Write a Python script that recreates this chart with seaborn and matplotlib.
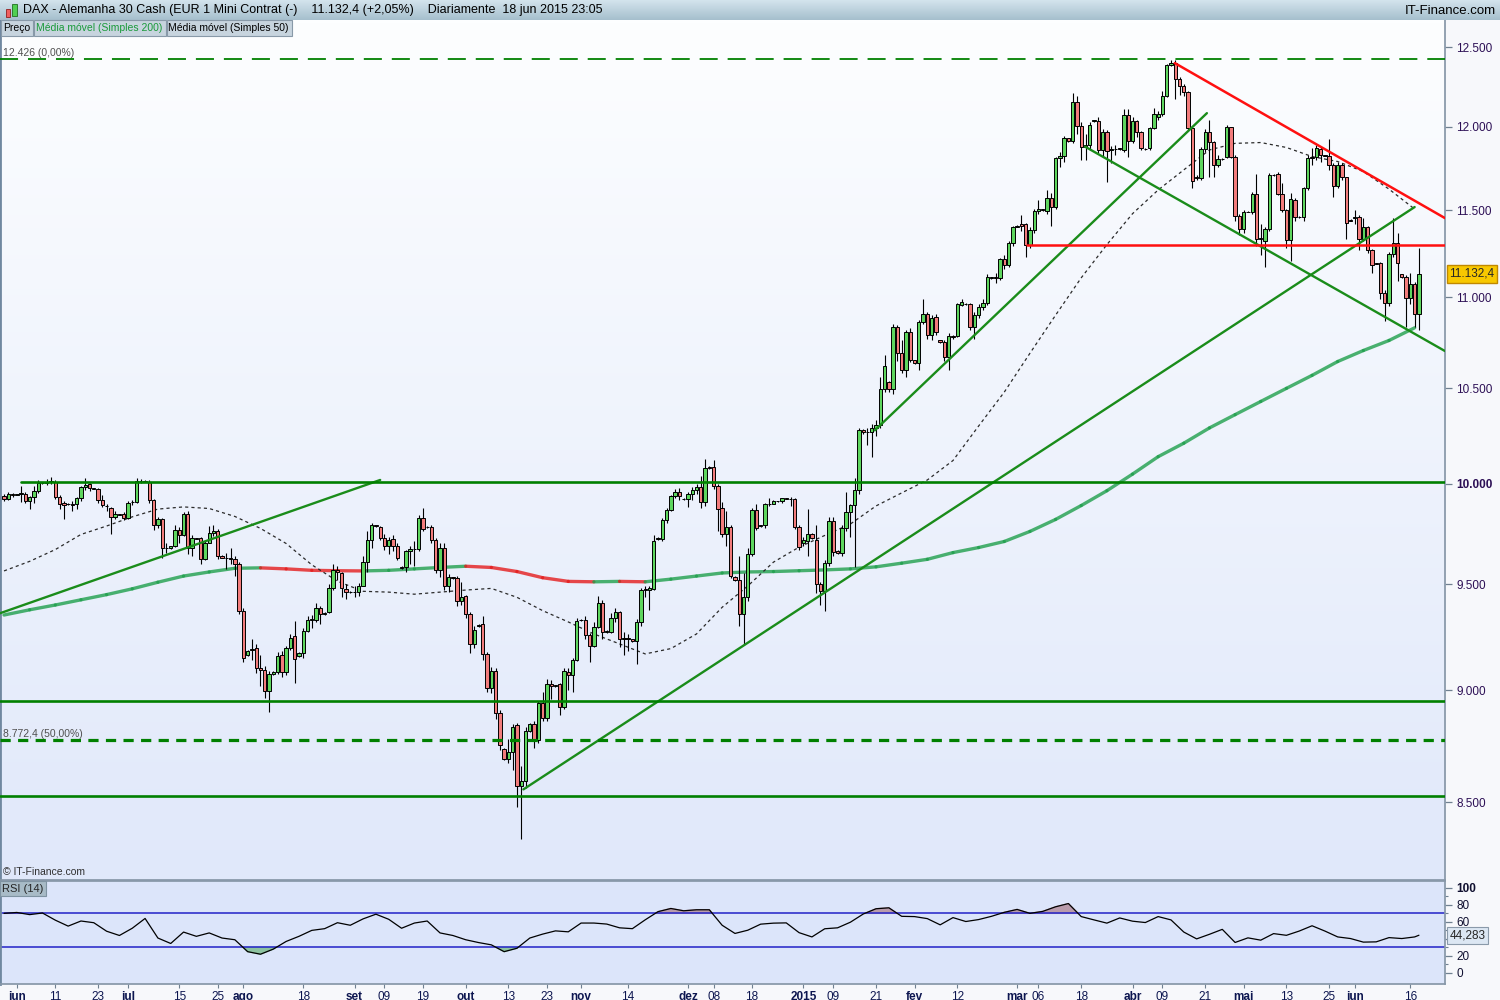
import numpy as np
import pandas as pd
import seaborn as sns
import matplotlib.pyplot as plt
import matplotlib.transforms as mtransforms
from matplotlib.colors import LinearSegmentedColormap
from matplotlib.patches import Rectangle
from matplotlib.ticker import NullLocator, FixedLocator

sns.set_theme(style="white")
plt.rcParams['font.family'] = ['Liberation Sans', 'DejaVu Sans']

# daily bars of the DAX cash feed, 28 May 2014 .. 18 Jun 2015 (Sunday bars included)
opens = [9940, 9923, 9950,
         9945, 9948, 9950, 9912, 9932, 9962,
         10006, 10004, 10010, 10012, 9933, 9903,
         9897, 9900, 9898, 9928, 9982, 9998,
         9978, 9973, 9920, 9890, 9878, 9832,
         9845, 9845, 9828, 9906, 9908, 10017,
         10015, 10012, 9920, 9790, 9820, 9680,
         9676, 9690, 9765, 9740, 9848, 9680,
         9725, 9725, 9623, 9703, 9750, 9762,
         9640, 9630, 9627, 9623, 9600, 9370,
         9162, 9185, 9195, 9100, 9095, 8995,
         9076, 9085, 9163, 9085, 9195, 9250,
         9160, 9170, 9278, 9330, 9330, 9385,
         9355, 9365, 9480, 9570, 9555, 9478,
         9462, 9463, 9463, 9493, 9610, 9715,
         9790, 9780, 9727, 9686, 9722, 9690,
         9585, 9582, 9665, 9673, 9675, 9825,
         9783, 9783, 9718, 9568, 9678, 9490,
         9533, 9530, 9418, 9442, 9356, 9215,
         9300, 9310, 9168, 9008, 9090, 8896,
         8732, 8690, 8720, 8840, 8568, 8590,
         8815, 8845, 8775, 8940, 8873, 9030,
         9020, 9030, 8923, 9085, 9070, 9139,
         9330, 9330, 9255, 9206, 9297, 9410,
         9272, 9272, 9340, 9365, 9240, 9242,
         9238, 9228, 9320, 9470, 9470, 9478,
         9722, 9722, 9815, 9868, 9937, 9960,
         9925, 9922, 9948, 9967, 9983, 9906,
         10085, 10085, 9990, 9875, 9745, 9782,
         9537, 9520, 9357, 9437, 9649, 9867,
         9785, 9790, 9896, 9900, 9913, 9913,
         9926, 9925, 9924, 9782, 9700, 9712,
         9745, 9715, 9500, 9468, 9605, 9814,
         9665, 9655, 9777, 9858, 9891, 9970,
         10280, 10266, 10266, 10290, 10306, 10495,
         10532, 10495, 10836, 10692, 10597, 10809,
         10651, 10638, 10863, 10907, 10789, 10890,
         10762, 10750, 10669, 10782, 10782, 10956,
         10965, 10960, 10832, 10900, 10947, 10969,
         11110, 11112, 11110, 11215, 11182, 11307,
         11405, 11418, 11418, 11297, 11384, 11495,
         11505, 11495, 11570, 11522, 11809, 11823,
         11930, 11915, 12152, 12007, 11890, 11890,
         12036, 12036, 11859, 11967, 11860, 11863,
         11869, 11859, 12073, 11914, 12036, 11967,
         11865, 11869, 11992, 12062, 12079, 12193,
         12386, 12396, 12297, 12254, 12215, 11992,
         11700, 11689, 11863, 11967, 11906, 11769,
         11805, 11819, 11997, 11819, 11466, 11390,
         11491, 11491, 11599, 11330, 11319, 11388,
         11710, 11713, 11599, 11501, 11325, 11560,
         11458, 11458, 11629, 11809, 11815, 11865,
         11828, 11825, 11769, 11643, 11769, 11695,
         11443, 11452, 11460, 11330, 11400, 11268,
         11192, 11192, 11025, 10966, 11244, 11307,
         11129, 11112, 10994, 11074, 10904]

highs = [9950, 9958, 9956,
         9950, 9990, 9958, 9940, 9990, 10020,
         10008, 10025, 10035, 10018, 9945, 9915,
         9903, 9915, 9935, 9990, 10030, 10005,
         9980, 9980, 9945, 9900, 9885, 9860,
         9848, 9858, 9915, 9918, 10030, 10025,
         10018, 10020, 9925, 9830, 9825, 9700,
         9690, 9790, 9780, 9858, 9862, 9740,
         9728, 9730, 9712, 9785, 9790, 9770,
         9642, 9655, 9680, 9640, 9610, 9385,
         9188, 9240, 9215, 9165, 9110, 9090,
         9090, 9178, 9180, 9205, 9260, 9325,
         9175, 9290, 9345, 9350, 9410, 9395,
         9365, 9500, 9600, 9590, 9560, 9500,
         9466, 9490, 9505, 9640, 9760, 9800,
         9792, 9785, 9745, 9730, 9740, 9700,
         9590, 9670, 9690, 9710, 9840, 9880,
         9786, 9790, 9725, 9700, 9700, 9550,
         9536, 9540, 9510, 9450, 9365, 9300,
         9308, 9345, 9175, 9105, 9100, 8910,
         8738, 8780, 8845, 8850, 8660, 8830,
         8850, 8860, 8950, 8990, 9050, 9045,
         9025, 9035, 9100, 9100, 9150, 9340,
         9335, 9345, 9265, 9320, 9445, 9425,
         9280, 9360, 9385, 9372, 9270, 9260,
         9240, 9335, 9480, 9490, 9490, 9740,
         9730, 9825, 9875, 9945, 9975, 9980,
         9928, 9960, 9985, 10000, 10040, 10130,
         10090, 10125, 10000, 9910, 9860, 9790,
         9540, 9640, 9555, 9680, 9880, 9900,
         9792, 9905, 9930, 9918, 9915, 9930,
         9928, 9935, 9930, 9790, 9730, 9870,
         9750, 9790, 9510, 9620, 9830, 9830,
         9670, 9790, 9960, 9900, 10030, 10290,
         10285, 10290, 10310, 10330, 10560, 10680,
         10540, 10850, 10845, 10760, 10820, 10830,
         10655, 10875, 10990, 10920, 10900, 10905,
         10765, 10760, 10800, 10790, 10970, 10990,
         10968, 10970, 10915, 10960, 10990, 11130,
         11116, 11140, 11225, 11240, 11320, 11410,
         11412, 11470, 11425, 11400, 11510, 11560,
         11510, 11620, 11600, 11820, 11850, 11945,
         11935, 12210, 12193, 12030, 11955, 12030,
         12045, 12060, 11990, 11980, 11885, 11890,
         11872, 12110, 12110, 12060, 12045, 11975,
         11870, 12000, 12115, 12100, 12220, 12395,
         12415, 12420, 12310, 12265, 12225, 12000,
         11710, 11875, 11990, 12040, 11915, 11830,
         11810, 12010, 12000, 11830, 11480, 11500,
         11496, 11610, 11713, 11420, 11400, 11720,
         11716, 11725, 11660, 11505, 11600, 11570,
         11465, 11640, 11830, 11870, 11890, 11875,
         11830, 11925, 11780, 11790, 11780, 11700,
         11448, 11500, 11470, 11452, 11410, 11275,
         11195, 11200, 11040, 11260, 11452, 11365,
         11133, 11125, 11135, 11085, 11280]

lows = [9915, 9918, 9935,
        9943, 9910, 9905, 9870, 9905, 9955,
        10000, 9995, 10000, 9925, 9870, 9820,
        9895, 9860, 9870, 9915, 9970, 9965,
        9972, 9905, 9885, 9860, 9745, 9820,
        9840, 9815, 9822, 9895, 9902, 10005,
        10010, 9905, 9765, 9775, 9630, 9655,
        9674, 9685, 9700, 9735, 9650, 9640,
        9720, 9600, 9618, 9700, 9735, 9625,
        9628, 9575, 9600, 9540, 9355, 9130,
        9158, 9140, 9080, 9020, 8965, 8902,
        9072, 9075, 9060, 9070, 9185, 9035,
        9155, 9150, 9270, 9290, 9320, 9310,
        9350, 9360, 9470, 9520, 9440, 9430,
        9458, 9440, 9445, 9490, 9560, 9680,
        9780, 9715, 9670, 9650, 9665, 9620,
        9575, 9560, 9600, 9590, 9665, 9760,
        9776, 9700, 9555, 9535, 9470, 9465,
        9525, 9395, 9400, 9340, 9170, 9195,
        9296, 9140, 8990, 8985, 8870, 8730,
        8685, 8670, 8640, 8480, 8340, 8560,
        8810, 8740, 8760, 8860, 8860, 8960,
        9016, 8885, 8915, 9000, 8990, 9135,
        9322, 9240, 9130, 9200, 9290, 9240,
        9268, 9265, 9320, 9200, 9165, 9180,
        9225, 9120, 9300, 9440, 9378, 9470,
        9718, 9710, 9800, 9860, 9930, 9920,
        9918, 9885, 9920, 9950, 9880, 9890,
        10075, 9975, 9760, 9730, 9690, 9530,
        9515, 9300, 9210, 9420, 9640, 9765,
        9780, 9775, 9890, 9898, 9910, 9905,
        9922, 9890, 9770, 9670, 9690, 9640,
        9720, 9460, 9400, 9370, 9590, 9640,
        9650, 9640, 9760, 9730, 9585, 9950,
        10260, 10200, 10140, 10250, 10290, 10480,
        10480, 10470, 10650, 10585, 10560, 10640,
        10630, 10600, 10850, 10770, 10760, 10790,
        10745, 10650, 10600, 10770, 10780, 10950,
        10958, 10820, 10770, 10885, 10930, 10955,
        11105, 11080, 11100, 11160, 11170, 11290,
        11400, 11380, 11230, 11280, 11370, 11480,
        11495, 11480, 11410, 11510, 11760, 11790,
        11910, 11905, 11960, 11800, 11800, 11860,
        12030, 11840, 11820, 11670, 11780, 11830,
        11862, 11850, 11820, 11900, 11940, 11860,
        11860, 11860, 11985, 12040, 12070, 12185,
        12380, 12170, 12200, 12190, 11980, 11630,
        11680, 11680, 11850, 11700, 11700, 11760,
        11800, 11810, 11810, 11440, 11355, 11370,
        11488, 11480, 11290, 11240, 11170, 11380,
        11705, 11590, 11490, 11280, 11208, 11440,
        11455, 11440, 11620, 11770, 11800, 11790,
        11822, 11740, 11580, 11630, 11680, 11330,
        11436, 11420, 11268, 11320, 11250, 11140,
        11186, 10990, 10865, 10950, 11230, 11090,
        11110, 10835, 10960, 10835, 10817]

closes = [9923, 9950, 9945,
          9948, 9952, 9912, 9932, 9962, 10006,
          10004, 10010, 10015, 9933, 9898, 9895,
          9900, 9895, 9928, 9982, 9995, 9978,
          9975, 9920, 9892, 9887, 9832, 9845,
          9843, 9828, 9903, 9908, 10017, 10015,
          10012, 9920, 9790, 9820, 9678, 9676,
          9688, 9765, 9740, 9848, 9680, 9725,
          9724, 9623, 9703, 9750, 9762, 9640,
          9630, 9627, 9625, 9600, 9370, 9150,
          9183, 9190, 9100, 9095, 8995, 9076,
          9085, 9160, 9085, 9195, 9245, 9145,
          9170, 9275, 9330, 9332, 9385, 9355,
          9360, 9480, 9570, 9562, 9480, 9462,
          9463, 9465, 9493, 9610, 9715, 9790,
          9785, 9727, 9686, 9718, 9690, 9630,
          9580, 9662, 9672, 9675, 9825, 9770,
          9780, 9718, 9568, 9678, 9490, 9533,
          9530, 9418, 9437, 9356, 9215, 9282,
          9303, 9168, 9008, 9090, 8896, 8750,
          8690, 8720, 8834, 8568, 8590, 8815,
          8845, 8775, 8940, 8873, 9030, 9018,
          9022, 8923, 9090, 9070, 9139, 9322,
          9328, 9255, 9206, 9297, 9410, 9272,
          9275, 9340, 9365, 9238, 9242, 9240,
          9228, 9320, 9470, 9478, 9480, 9713,
          9725, 9815, 9868, 9937, 9960, 9938,
          9922, 9948, 9967, 9983, 9906, 10081,
          10082, 9990, 9870, 9745, 9782, 9542,
          9520, 9357, 9437, 9649, 9867, 9777,
          9790, 9896, 9900, 9913, 9913, 9926,
          9925, 9924, 9782, 9682, 9715, 9745,
          9725, 9500, 9468, 9605, 9814, 9657,
          9655, 9777, 9858, 9891, 9970, 10280,
          10266, 10268, 10290, 10306, 10495, 10620,
          10495, 10836, 10692, 10597, 10809, 10651,
          10638, 10863, 10907, 10789, 10885, 10804,
          10750, 10669, 10782, 10780, 10962, 10975,
          10962, 10832, 10900, 10947, 10969, 11116,
          11112, 11110, 11215, 11182, 11307, 11400,
          11408, 11410, 11297, 11384, 11495, 11510,
          11500, 11570, 11522, 11809, 11823, 11930,
          11915, 12152, 12007, 11879, 11879, 12015,
          12040, 11859, 11967, 11853, 11863, 11865,
          11866, 12073, 11914, 12036, 11967, 11869,
          11866, 11992, 12079, 12079, 12193, 12386,
          12396, 12297, 12254, 12215, 11992, 11673,
          11690, 11863, 11967, 11906, 11769, 11803,
          11806, 11997, 11819, 11466, 11390, 11491,
          11492, 11599, 11330, 11338, 11388, 11709,
          11712, 11599, 11501, 11325, 11564, 11462,
          11460, 11629, 11809, 11815, 11869, 11829,
          11826, 11769, 11643, 11769, 11695, 11423,
          11440, 11460, 11330, 11400, 11268, 11182,
          11190, 11025, 10966, 11244, 11307, 11196,
          11116, 10994, 11074, 10904, 11132]

# moving averages, one reading every 6th bar
ma200 = [9352, 9377, 9400, 9425, 9450, 9478, 9510, 9540, 9560, 9578,
         9580, 9575, 9568, 9566, 9565, 9568, 9575, 9582, 9588, 9582,
         9562, 9532, 9514, 9512, 9514, 9512, 9525, 9540, 9555, 9560,
         9562, 9566, 9570, 9575, 9585, 9603, 9622, 9655, 9680, 9710,
         9760, 9820, 9890, 9965, 10050, 10140, 10210, 10290, 10360, 10430,
         10500, 10570, 10645, 10705, 10760, 10830]
ma50 = [9565, 9612, 9670, 9745, 9787, 9833, 9872, 9883, 9875, 9835,
        9775, 9700, 9595, 9515, 9466, 9462, 9452, 9462, 9472, 9480,
        9437, 9373, 9319, 9262, 9215, 9168, 9193, 9262, 9389, 9492,
        9608, 9682, 9740, 9797, 9888, 9954, 10020, 10120, 10300, 10480,
        10690, 10900, 11110, 11300, 11480, 11620, 11740, 11860, 11900, 11905,
        11875, 11820, 11790, 11730, 11625, 11507]

# RSI(14), one reading every 3rd bar plus the last bar
rsi = [70, 71, 68.5, 70.4, 62, 55, 61, 59, 49, 44,
       52.5, 64, 41, 34.6, 48, 43, 47, 41, 39, 25,
       22, 28, 37, 43, 50, 52, 59, 56, 63.5, 69,
       63, 52.5, 58.6, 61, 47, 44, 39, 35.7, 33, 25,
       29, 41, 45.6, 49.4, 48.3, 58.6, 58.6, 57.4, 53, 52,
       62.4, 72, 75.7, 73, 74.2, 74.2, 56, 46.4, 50.2, 57.3,
       58.5, 58.8, 47.3, 42.3, 51.9, 53, 59.6, 69.2, 75.4, 76.5,
       66.5, 66.2, 63.8, 56.5, 65, 60.4, 62.7, 66.5, 71.2, 74.6,
       70, 72.3, 77.7, 81.5, 66.2, 62.3, 58.5, 64.6, 60.8, 59.2,
       66.2, 62.3, 48, 40, 45.4, 51.2, 35.8, 41.2, 38.5, 46.2,
       44.2, 49.2, 55.4, 49.2, 42.3, 40.4, 36.2, 36.5, 41.5, 40.4,
       42.3, 44.283]

# drawings on the chart: (bar0, price0, bar1, price1)
green_trends = [(-1.0, 9360, 88, 10020), (121.5, 8555, 330, 11519),
                (203.7, 10277, 281.4, 12085), (252.9, 11880, 337.1, 10702)]
red_trends = [(273.9, 12398, 337.1, 11454), (239.3, 11300, 337.1, 11300)]
supports = [(4, 10010), (-1, 8950), (-1, 8526)]
fibo = [(12426, "12.426 (0,00%)"), (8772.4, "8.772,4 (50,00%)")]

price_ticks = [8500, 9000, 9500, 10000, 10500, 11000, 11500, 12000, 12500]
rsi_ticks = [0, 20, 40, 60, 80, 100]
rsi_tick_text = ["0", "20", "", "60", "80", "100"]   # 40 sits under the value box

tick_dates = ["2014-06-01", "2014-06-11", "2014-06-23", "2014-07-01", "2014-07-15",
              "2014-07-25", "2014-08-01", "2014-08-18", "2014-09-01", "2014-09-09",
              "2014-09-19", "2014-10-01", "2014-10-13", "2014-10-23", "2014-11-02",
              "2014-11-14", "2014-12-01", "2014-12-08", "2014-12-18", "2015-01-01",
              "2015-01-09", "2015-01-21", "2015-02-01", "2015-02-12", "2015-03-01",
              "2015-03-06", "2015-03-18", "2015-04-01", "2015-04-09", "2015-04-21",
              "2015-05-01", "2015-05-13", "2015-05-25", "2015-06-01", "2015-06-16"]
tick_text = ["jun", "11", "23", "jul", "15", "25", "ago", "18", "set", "09",
             "19", "out", "13", "23", "nov", "14", "dez", "08", "18", "2015",
             "09", "21", "fev", "12", "mar", "06", "18", "abr", "09", "21",
             "mai", "13", "25", "jun", "16"]

title = "DAX - Alemanha 30 Cash (EUR 1 Mini Contrat (-)    11.132,4 (+2,05%)    Diariamente  18 jun 2015 23:05"
legend_items = [("Preço", "black"), ("Média móvel (Simples 200)", "#1a9a3a"),
                ("Média móvel (Simples 50)", "black")]

# ---------------------------------------------------------------
days = pd.date_range("2014-05-28", "2015-06-18", freq="D")
days = days[days.dayofweek != 5]   # the feed has Sunday bars but no Saturday bars
bars = np.arange(len(days))
tick_idx = days.get_indexer(pd.to_datetime(tick_dates))

o, h, l, c = (np.array(v, dtype=float) for v in (opens, highs, lows, closes))
ma_idx = np.arange(0, len(days), 6)
rsi_idx = np.append(np.arange(0, len(days), 3), len(days) - 1)
r = np.array(rsi)

W, H = 1500, 1000
fig = plt.figure(figsize=(15, 10), dpi=100)
fig.patch.set_facecolor("#f7f8fb")


def rect(x0, y0, x1, y1):
    # pixel box -> figure fraction
    return [x0 / W, 1 - y1 / H, (x1 - x0) / W, (y1 - y0) / H]


grad = np.linspace(0, 1, 256)[:, None]
bg = fig.add_axes(rect(0, 20, 1445, 880), zorder=0)
bg.imshow(grad, aspect="auto",
          cmap=LinearSegmentedColormap.from_list("bg", ["#fdfeff", "#e0e8fa"]))
bg.axis("off")

ax = fig.add_axes(rect(0, 20, 1445, 880), zorder=1)
ax.patch.set_alpha(0)
ax.set_yscale("log")
ax_rsi = fig.add_axes(rect(0, 881, 1445, 984), zorder=1)

# candles
up = c >= o
ax.vlines(bars, l, h, color="black", lw=0.8, zorder=3)
ax.bar(bars[up], (c - o)[up], bottom=o[up], width=0.78, color="#5ed65e",
       edgecolor="black", linewidth=0.7, zorder=4)
ax.bar(bars[~up], (o - c)[~up], bottom=c[~up], width=0.78, color="#f27c7c",
       edgecolor="black", linewidth=0.7, zorder=4)

# 200 MA, green while rising and red while falling
for k in range(len(ma200) - 1):
    col = "#1f9f4c" if ma200[k + 1] >= ma200[k] else "#e41c1c"
    ax.plot(ma_idx[k:k + 2], ma200[k:k + 2], color=col, lw=2.4, alpha=0.8,
            solid_capstyle="round", zorder=2)
ax.plot(ma_idx, ma50, color="#2a2a2a", lw=0.9, ls=(0, (2.5, 2.5)), zorder=2)

# drawings
for b0, p0, b1, p1 in green_trends:
    ax.plot([b0, b1], [p0, p1], color="#1a8c1a", lw=1.7, zorder=5)
for b0, p0, b1, p1 in red_trends:
    ax.plot([b0, b1], [p0, p1], color="#ff1010", lw=1.8, zorder=5)
for b0, p in supports:
    ax.plot([b0, 338], [p, p], color="#008000", lw=1.9, zorder=5)
ax.axhline(fibo[0][0], color="#008000", lw=1.3, ls=(0, (10, 5.5)), zorder=5)
ax.axhline(fibo[1][0], color="#008000", lw=2.3, ls=(0, (3.2, 2.3)), zorder=5)
for p, txt in fibo:
    ax.text(-0.3, p * 1.0006, txt, fontsize=7.5, color="#505050", va="bottom",
            ha="left", zorder=6)
ax.text(0.002, 0.003, "© IT-Finance.com", transform=ax.transAxes, fontsize=7.5,
        color="#303030", va="bottom", ha="left")

ax.set_xlim(-0.94, 337.1)
ax.set_ylim(8168, 12674)
ax.yaxis.tick_right()
ax.set_yticks(price_ticks)
ax.set_yticklabels([f"{v:,}".replace(",", ".") for v in price_ticks])
ax.yaxis.set_minor_locator(NullLocator())
ax.tick_params(axis="y", which="major", right=True, direction="out", length=5, width=0.9,
               color="#6f8090", labelsize=8.5, labelcolor="#2c0f55", pad=3)
ax.tick_params(axis="x", bottom=False, labelbottom=False)
for lbl in ax.get_yticklabels():
    if lbl.get_text() == "10.000":
        lbl.set_fontweight("bold")
for s in ax.spines.values():
    s.set_color("#8797a8")
ax.spines["top"].set_visible(False)
ax.spines["left"].set_color("#7088a0")
ax.spines["left"].set_linewidth(2)
ax.set_xlabel("")
ax.set_ylabel("")

blend = mtransforms.blended_transform_factory(ax.transAxes, ax.transData)
ax.text(1.003, closes[-1], "11.132,4", transform=blend, fontsize=8.5, va="center",
        ha="left", clip_on=False, zorder=8,
        bbox=dict(boxstyle="square,pad=0.22", fc="#f8c800", ec="#c08800", lw=1))

# RSI panel
ax_rsi.set_facecolor("#dce5fa")
ax_rsi.axhline(70, color="#2222c8", lw=1.1, zorder=2)
ax_rsi.axhline(30, color="#2222c8", lw=1.1, zorder=2)
ax_rsi.fill_between(rsi_idx, r, 70, where=r >= 70, interpolate=True,
                    color="#b99bab", zorder=1)
ax_rsi.fill_between(rsi_idx, r, 30, where=r <= 30, interpolate=True,
                    color="#8dc3a0", zorder=1)
sns.lineplot(x=rsi_idx, y=r, ax=ax_rsi, color="black", lw=0.9, zorder=3)
ax_rsi.set_xlim(-0.94, 337.1)
ax_rsi.set_ylim(-13, 108)
ax_rsi.yaxis.tick_right()
ax_rsi.set_yticks(rsi_ticks)
ax_rsi.set_yticklabels(rsi_tick_text)
ax_rsi.yaxis.set_minor_locator(FixedLocator([10, 30, 50, 70, 90]))
ax_rsi.tick_params(axis="y", which="major", right=True, direction="out", length=5,
                   width=0.9, color="#6f8090", labelsize=8.5, labelcolor="#101030", pad=3)
ax_rsi.tick_params(axis="y", which="minor", right=True, direction="out", length=2.5,
                   width=0.8, color="#6f8090")
ax_rsi.get_yticklabels()[-1].set_fontweight("bold")
ax_rsi.set_xticks(tick_idx)
ax_rsi.set_xticklabels(tick_text)
ax_rsi.tick_params(axis="x", bottom=True, direction="out", length=3, width=0.8,
                   color="#6f8090", labelsize=8.5, labelcolor="#0d1650", pad=2)
for lbl, t in zip(ax_rsi.get_xticklabels(), tick_text):
    if t.isalpha() or t == "2015":
        lbl.set_fontweight("bold")
for s in ax_rsi.spines.values():
    s.set_color("#8797a8")
ax_rsi.spines["left"].set_color("#7088a0")
ax_rsi.spines["left"].set_linewidth(2)
ax_rsi.set_xlabel("")
ax_rsi.set_ylabel("")
ax_rsi.text(0.0015, 0.975, "RSI (14)", transform=ax_rsi.transAxes, fontsize=8,
            va="top", ha="left", zorder=6,
            bbox=dict(boxstyle="square,pad=0.2", fc="#a8bbc7", ec="#7f93a2", lw=0.8))
blend_r = mtransforms.blended_transform_factory(ax_rsi.transAxes, ax_rsi.transData)
ax_rsi.text(1.003, rsi[-1], "44,283", transform=blend_r, fontsize=8.5, va="center",
            ha="left", clip_on=False, zorder=8,
            bbox=dict(boxstyle="square,pad=0.22", fc="#dce7f3", ec="#8a9aaa", lw=0.8))

# header bar
hd = fig.add_axes(rect(0, 0, 1500, 20), zorder=2)
hd.imshow(grad, aspect="auto",
          cmap=LinearSegmentedColormap.from_list("hd", ["#d4e4ed", "#a5bfcd"]))
hd.axis("off")
fig.add_artist(Rectangle((6 / W, 1 - 17 / H), 4 / W, 8 / H, transform=fig.transFigure,
                         fc="#f06060", ec="#902020", lw=0.6, zorder=10))
fig.add_artist(Rectangle((12 / W, 1 - 16 / H), 5 / W, 12 / H, transform=fig.transFigure,
                         fc="#50d050", ec="#207020", lw=0.6, zorder=10))
fig.text(23 / W, 1 - 10.5 / H, title, fontsize=9, va="center", ha="left",
         color="black", zorder=11)
fig.text(1496 / W, 1 - 10.5 / H, "IT-Finance.com", fontsize=9.5, va="center",
         ha="right", color="black", zorder=11)

# legend row, boxes sized to their text
renderer = fig.canvas.get_renderer()
x0 = 1
for txt, col in legend_items:
    t = fig.text((x0 + 2) / W, 1 - 28 / H, txt, fontsize=7.5, va="center", ha="left",
                 color=col, zorder=11)
    w = t.get_window_extent(renderer).width
    fig.add_artist(Rectangle((x0 / W, 1 - 36 / H), (w + 5) / W, 16 / H,
                             transform=fig.transFigure, fc="#c7d4de", ec="#8899a8",
                             lw=0.8, zorder=10))
    x0 += w + 6

fig.savefig("out.png", dpi=100, facecolor=fig.get_facecolor())
